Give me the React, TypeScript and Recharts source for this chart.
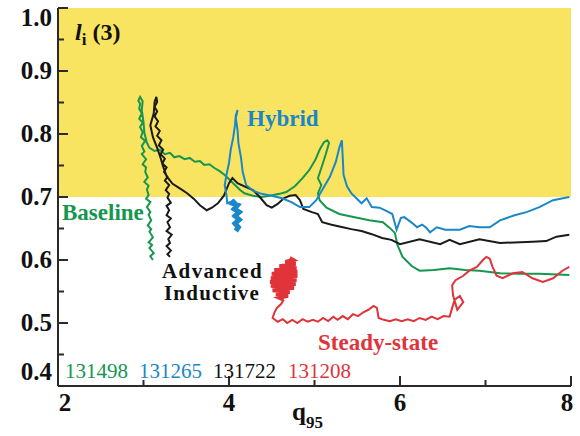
import React from 'react';
import { LineChart, Line, XAxis, YAxis, ReferenceArea } from 'recharts';

const W = 580;
const H = 436;

const xTicks = [2, 3, 4, 5, 6, 7, 8];
const xTickLabels = ['2', '', '4', '', '6', '', '8'];
const yTicks = [0.4, 0.45, 0.5, 0.55, 0.6, 0.65, 0.7, 0.75, 0.8, 0.85, 0.9, 0.95, 1.0];

const GREEN = '#16964F';
const BLUE = '#1A87C8';
const BLACK = '#1a1a1a';
const RED = '#E0343A';
const YELLOW = '#F9E462';

// Baseline 131498 : [q95, li(3)]
const baseline131498: [number, number][] = [
  [3.11, 0.6], [3.08, 0.606], [3.12, 0.611], [3.07, 0.619], [3.1, 0.624], [3.06, 0.628],
  [3.11, 0.636], [3.07, 0.645], [3.09, 0.649], [3.05, 0.655], [3.09, 0.663], [3.06, 0.672],
  [3.08, 0.676], [3.04, 0.684], [3.08, 0.692], [3.03, 0.697], [3.06, 0.703], [3.04, 0.712],
  [3.06, 0.718], [3.01, 0.724], [3.05, 0.731], [3.02, 0.74], [3.03, 0.747], [2.99, 0.752],
  [3.03, 0.76], [2.98, 0.768], [3.01, 0.772], [2.98, 0.781], [3.02, 0.789], [2.97, 0.795],
  [2.99, 0.803], [2.96, 0.811], [2.99, 0.818], [2.95, 0.824], [2.98, 0.833], [2.95, 0.84],
  [2.96, 0.848], [2.94, 0.853], [2.96, 0.859],
  [2.99, 0.852], [2.98, 0.838], [3.0, 0.819], [3.01, 0.802], [3.04, 0.786],
  [3.07, 0.778], [3.13, 0.773], [3.19, 0.775], [3.25, 0.768], [3.31, 0.77], [3.36, 0.763],
  [3.42, 0.765], [3.48, 0.76], [3.54, 0.762], [3.6, 0.756], [3.66, 0.757], [3.71, 0.751],
  [3.77, 0.752], [3.83, 0.746], [3.89, 0.741], [3.95, 0.735], [4.01, 0.727], [4.07, 0.719],
  [4.13, 0.711], [4.18, 0.706], [4.28, 0.702], [4.38, 0.7], [4.48, 0.702], [4.59, 0.705],
  [4.67, 0.708], [4.77, 0.717], [4.86, 0.73], [4.94, 0.743], [5.01, 0.759], [5.06, 0.775],
  [5.11, 0.787], [5.15, 0.79], [5.17, 0.786], [5.13, 0.767], [5.08, 0.746], [5.04, 0.73],
  [5.08, 0.719], [5.04, 0.706], [5.06, 0.695], [5.14, 0.683], [5.29, 0.673], [5.47, 0.668],
  [5.64, 0.663], [5.8, 0.66], [5.88, 0.651], [5.94, 0.643], [5.97, 0.624], [6.03, 0.605],
  [6.14, 0.59], [6.23, 0.583], [6.4, 0.584], [6.58, 0.587], [6.76, 0.584], [6.93, 0.583],
  [7.17, 0.579], [7.4, 0.578], [7.63, 0.578], [7.98, 0.576],
];

// Advanced Inductive 131722
const advanced131722: [number, number][] = [
  [3.31, 0.605], [3.28, 0.609], [3.32, 0.615], [3.27, 0.622], [3.31, 0.627], [3.29, 0.633],
  [3.33, 0.64], [3.27, 0.646], [3.31, 0.652], [3.28, 0.66], [3.32, 0.666], [3.27, 0.671],
  [3.3, 0.679], [3.27, 0.686], [3.32, 0.691], [3.28, 0.699], [3.3, 0.705], [3.26, 0.711],
  [3.3, 0.719], [3.25, 0.726], [3.28, 0.732], [3.24, 0.74], [3.27, 0.747], [3.22, 0.753],
  [3.25, 0.761], [3.2, 0.768], [3.23, 0.775], [3.18, 0.782], [3.21, 0.79], [3.16, 0.797],
  [3.19, 0.805], [3.14, 0.812], [3.17, 0.82], [3.13, 0.828], [3.16, 0.836], [3.13, 0.843],
  [3.16, 0.851], [3.15, 0.859],
  [3.13, 0.851], [3.12, 0.833], [3.08, 0.814], [3.11, 0.795], [3.16, 0.778],
  [3.2, 0.762], [3.23, 0.748], [3.27, 0.733], [3.34, 0.721], [3.42, 0.714], [3.51, 0.706],
  [3.59, 0.697], [3.66, 0.687], [3.74, 0.679], [3.8, 0.683], [3.87, 0.69], [3.94, 0.702],
  [4.0, 0.722], [4.04, 0.73], [4.1, 0.722], [4.18, 0.717], [4.28, 0.711], [4.36, 0.7],
  [4.44, 0.687], [4.5, 0.683], [4.57, 0.689], [4.64, 0.698], [4.71, 0.702], [4.78, 0.703],
  [4.83, 0.695], [4.87, 0.681], [4.97, 0.676], [5.04, 0.673], [5.09, 0.66], [5.2, 0.656],
  [5.33, 0.652], [5.43, 0.649], [5.55, 0.646], [5.67, 0.641], [5.79, 0.635], [5.9, 0.632],
  [6.0, 0.625], [6.23, 0.633], [6.47, 0.625], [6.58, 0.632], [6.7, 0.625], [6.93, 0.633],
  [7.17, 0.627], [7.55, 0.629], [7.71, 0.63], [7.83, 0.637], [7.98, 0.64],
];

// Hybrid 131265 (dense cluster, then trail)
const hybridCluster131265: [number, number][] = [
  [4.08, 0.646], [4.11, 0.652], [4.07, 0.658], [4.12, 0.664], [4.07, 0.67], [4.12, 0.676],
  [4.06, 0.681], [4.1, 0.687], [4.04, 0.69], [4.07, 0.695],
];
const hybridTrail131265: [number, number][] = [
  [4.07, 0.695], [3.98, 0.69], [3.97, 0.703], [3.95, 0.719],
  [3.97, 0.735], [4.0, 0.754], [4.02, 0.775], [4.05, 0.795], [4.07, 0.814], [4.08, 0.83],
  [4.1, 0.838], [4.08, 0.825], [4.1, 0.806], [4.11, 0.786], [4.14, 0.763], [4.16, 0.74],
  [4.2, 0.719], [4.28, 0.71], [4.38, 0.705], [4.5, 0.702], [4.62, 0.698], [4.73, 0.692],
  [4.83, 0.684], [4.94, 0.684], [5.02, 0.695], [5.09, 0.711], [5.18, 0.732], [5.25, 0.756],
  [5.29, 0.778], [5.32, 0.79], [5.33, 0.763], [5.34, 0.735], [5.38, 0.717], [5.43, 0.706],
  [5.49, 0.698], [5.55, 0.69], [5.61, 0.698], [5.67, 0.684], [5.76, 0.683], [5.84, 0.678],
  [5.91, 0.673], [5.96, 0.648], [6.01, 0.667], [6.05, 0.668], [6.14, 0.659], [6.2, 0.652],
  [6.26, 0.656], [6.31, 0.651], [6.35, 0.644], [6.43, 0.652], [6.53, 0.648], [6.7, 0.648],
  [6.81, 0.654], [6.93, 0.652], [7.05, 0.652], [7.17, 0.663], [7.34, 0.671], [7.48, 0.676],
  [7.63, 0.684], [7.79, 0.695], [7.98, 0.7],
];

// Steady-state 131208 (dense cluster, then trail)
const steadyCluster131208: [number, number][] = [
  [4.71, 0.603], [4.75, 0.6], [4.66, 0.597], [4.78, 0.594], [4.59, 0.59], [4.79, 0.587],
  [4.53, 0.584], [4.8, 0.581], [4.5, 0.578], [4.8, 0.575], [4.49, 0.571], [4.79, 0.568],
  [4.48, 0.565], [4.78, 0.562], [4.49, 0.559], [4.76, 0.556], [4.51, 0.552], [4.71, 0.549],
  [4.55, 0.546], [4.69, 0.543], [4.59, 0.54], [4.64, 0.537],
];
const steadyTrail131208: [number, number][] = [
  [4.64, 0.537], [4.61, 0.53], [4.56, 0.524], [4.53, 0.516], [4.51, 0.508], [4.57, 0.502],
  [4.63, 0.506], [4.68, 0.5], [4.74, 0.505], [4.8, 0.5], [4.86, 0.506], [4.92, 0.502],
  [4.98, 0.505], [5.04, 0.502], [5.1, 0.508], [5.16, 0.503], [5.22, 0.51], [5.27, 0.505],
  [5.33, 0.511], [5.39, 0.506], [5.45, 0.514], [5.51, 0.511], [5.57, 0.517], [5.63, 0.521],
  [5.69, 0.527], [5.73, 0.524], [5.75, 0.508], [5.81, 0.505], [5.88, 0.503], [5.95, 0.506],
  [6.02, 0.503], [6.09, 0.506], [6.16, 0.503], [6.23, 0.508], [6.3, 0.505], [6.37, 0.51],
  [6.44, 0.506], [6.51, 0.511], [6.58, 0.51], [6.61, 0.524], [6.64, 0.537], [6.7, 0.543],
  [6.74, 0.533], [6.67, 0.521], [6.62, 0.544], [6.61, 0.56], [6.65, 0.568], [6.74, 0.575],
  [6.81, 0.583], [6.9, 0.589], [6.97, 0.6], [7.01, 0.605], [7.05, 0.602], [7.08, 0.59],
  [7.13, 0.575], [7.2, 0.571], [7.32, 0.579], [7.43, 0.581], [7.55, 0.571], [7.67, 0.565],
  [7.79, 0.571], [7.9, 0.583], [7.98, 0.589],
];

const toRows = (pts: [number, number][]) => pts.map(([x, y]) => ({ x, y }));

const FONT = "'Liberation Serif', 'Times New Roman', serif";
const AXIS = '#2a2a2a';

const isMajorY = (v: number) => Math.abs(v * 10 - Math.round(v * 10)) < 1e-6;
const isMajorX = (v: number) => Math.round(v) % 2 === 0;

const LeftTick = (props: any) => {
  const { x, y, payload } = props;
  const v = payload.value as number;
  const major = isMajorY(v);
  const dy = v > 0.999 ? 10 : v < 0.401 ? -14 : 0;
  return (
    <g>
      <line x1={x} x2={x + (major ? 10 : 6)} y1={y} y2={y} stroke={AXIS} strokeWidth={2} />
      {major && (
        <text x={x - 6} y={y + dy + 8} textAnchor="end" fontFamily={FONT} fontWeight="bold" fontSize={25} fill="#111">
          {v.toFixed(1)}
        </text>
      )}
    </g>
  );
};

const RightTick = (props: any) => {
  const { x, y, payload } = props;
  const major = isMajorY(payload.value);
  return <line x1={x} x2={x - (major ? 10 : 6)} y1={y} y2={y} stroke={AXIS} strokeWidth={2} />;
};

const BottomTick = (props: any) => {
  const { x, y, payload, index } = props;
  const v = payload.value as number;
  const major = isMajorX(v);
  const lbl = xTickLabels[index] ?? '';
  const dx = v < 2.01 ? 7 : v > 7.99 ? -4 : 0;
  return (
    <g>
      <line x1={x} x2={x} y1={y} y2={y - (major ? 10 : 6)} stroke={AXIS} strokeWidth={2} />
      {lbl && (
        <text x={x + dx} y={y + 25} textAnchor="middle" fontFamily={FONT} fontWeight="bold" fontSize={25} fill="#111">
          {lbl}
        </text>
      )}
    </g>
  );
};

const TopTick = (props: any) => {
  const { x, y, payload } = props;
  const major = isMajorX(payload.value);
  return <line x1={x} x2={x} y1={y} y2={y + (major ? 10 : 6)} stroke={AXIS} strokeWidth={2} />;
};

export default function App() {
  const lab = { fontFamily: FONT, fontWeight: 'bold' as const, fontSize: 23 };
  const num = { fontFamily: FONT, fontSize: 21 };
  return (
    <div style={{ position: 'absolute', left: 0, top: 0, width: W, height: H, background: '#fff' }}>
      <LineChart width={W} height={H} margin={{ top: 8, right: 9, bottom: 0, left: 0 }}>
        <XAxis
          xAxisId={0}
          type="number"
          dataKey="x"
          domain={[2, 8]}
          ticks={xTicks}
          interval={0}
          height={50}
          tickSize={0}
          tickMargin={0}
          tickLine={false}
          axisLine={{ stroke: AXIS, strokeWidth: 2 }}
          tick={<BottomTick />}
        />
        <XAxis
          xAxisId="top"
          orientation="top"
          type="number"
          dataKey="x"
          domain={[2, 8]}
          ticks={xTicks}
          interval={0}
          height={0}
          tickSize={0}
          tickMargin={0}
          tickLine={false}
          axisLine={{ stroke: AXIS, strokeWidth: 2 }}
          tick={<TopTick />}
        />
        <YAxis
          yAxisId={0}
          type="number"
          domain={[0.4, 1.0]}
          ticks={yTicks}
          interval={0}
          width={58}
          tickSize={0}
          tickMargin={0}
          tickLine={false}
          axisLine={{ stroke: AXIS, strokeWidth: 2 }}
          tick={<LeftTick />}
        />
        <YAxis
          yAxisId="right"
          orientation="right"
          type="number"
          domain={[0.4, 1.0]}
          ticks={yTicks}
          interval={0}
          width={0}
          tickSize={0}
          tickMargin={0}
          tickLine={false}
          axisLine={{ stroke: AXIS, strokeWidth: 2 }}
          tick={<RightTick />}
        />
        <ReferenceArea x1={2} x2={8} y1={0.7} y2={1.0} fill={YELLOW} fillOpacity={1} stroke="none" ifOverflow="hidden" />
        <Line data={toRows(baseline131498)} dataKey="y" stroke={GREEN} strokeWidth={2} dot={false} isAnimationActive={false} />
        <Line data={toRows(advanced131722)} dataKey="y" stroke={BLACK} strokeWidth={2} dot={false} isAnimationActive={false} />
        <Line data={toRows(hybridCluster131265)} dataKey="y" stroke={BLUE} strokeWidth={5} dot={false} isAnimationActive={false} />
        <Line data={toRows(hybridTrail131265)} dataKey="y" stroke={BLUE} strokeWidth={2} dot={false} isAnimationActive={false} />
        <Line data={toRows(steadyCluster131208)} dataKey="y" stroke={RED} strokeWidth={4} dot={false} isAnimationActive={false} />
        <Line data={toRows(steadyTrail131208)} dataKey="y" stroke={RED} strokeWidth={2} dot={false} isAnimationActive={false} />
      </LineChart>
      <svg width={W} height={H} style={{ position: 'absolute', left: 0, top: 0, pointerEvents: 'none' }}>
        <text x={75} y={40} fontFamily={FONT} fontWeight="bold" fontSize={24} fill="#111">
          <tspan fontStyle="italic">l</tspan>
          <tspan fontSize={17} dy={5}>i</tspan>
          <tspan dy={-5}> (3)</tspan>
        </text>
        <text x={247} y={126} {...lab} fill={BLUE}>Hybrid</text>
        <text x={62} y={220} {...lab} fill={GREEN}>Baseline</text>
        <text x={162} y={278} fontFamily={FONT} fontWeight="bold" fontSize={21} letterSpacing={1.4} fill="#111">Advanced</text>
        <text x={164} y={300} fontFamily={FONT} fontWeight="bold" fontSize={21} letterSpacing={1.2} fill="#111">Inductive</text>
        <text x={318} y={350} {...lab} fill={RED}>Steady-state</text>
        <text x={65} y={378} {...num} fill={GREEN}>131498</text>
        <text x={139} y={378} {...num} fill={BLUE}>131265</text>
        <text x={213} y={378} {...num} fill="#111">131722</text>
        <text x={288} y={378} {...num} fill={RED}>131208</text>
        <text x={292} y={420} fontFamily={FONT} fontWeight="bold" fontSize={25} fill="#111">
          q<tspan fontSize={17} dy={8}>95</tspan>
        </text>
      </svg>
    </div>
  );
}
